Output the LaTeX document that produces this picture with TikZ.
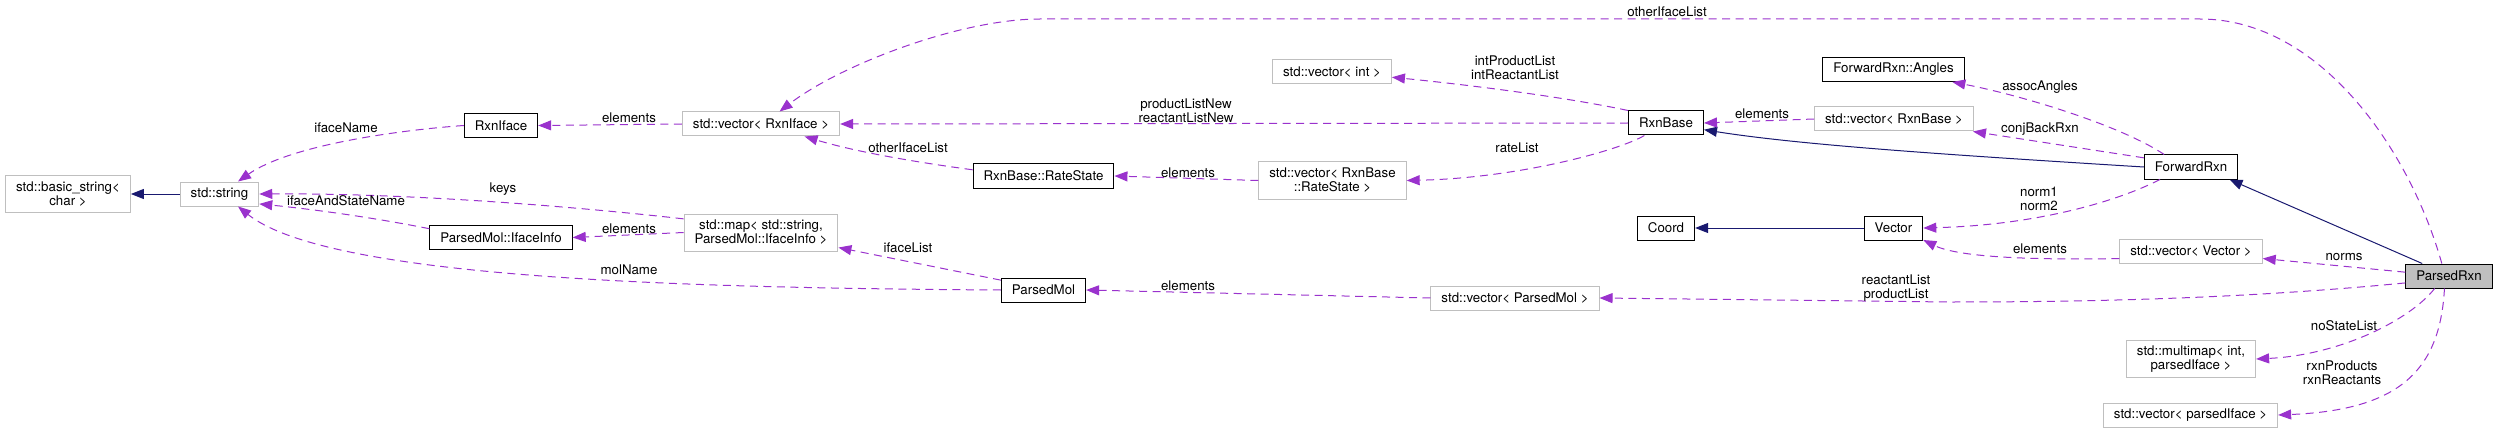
\documentclass[tikz,border=0pt]{standalone}
\usepackage{fontspec}
\setmainfont{TeX Gyre Heros}
\usetikzlibrary{arrows.meta}

\colorlet{class edge}{black}
\definecolor{ext edge}{HTML}{BFBFBF}
\definecolor{member edge}{HTML}{9A32CD}
\definecolor{base edge}{HTML}{191970}
\definecolor{main fill}{HTML}{BFBFBF}
\tikzset{box/.style={draw=class edge, fill=white, line width=1pt, minimum height=24pt,
        inner xsep=10.5pt, inner ysep=4pt},
    extbox/.style={box, draw=ext edge},
    twoline/.style={align=center, minimum height=37pt},
    member/.style={draw=member edge, line width=1pt, dash pattern=on 8pt off 5.5pt,
        -{Triangle[length=13pt, width=10pt, fill=member edge]}},
    inherit/.style={draw=base edge, line width=1pt, -{Triangle[length=13pt, width=10pt]}},
    lab/.style={inner sep=0pt, align=center}}

\begin{document}
\begin{tikzpicture}[x=1pt, y=-1pt, font=\fontsize{13.3}{14}\selectfont]
     \useasboundingbox (0,0) rectangle (2498,433);
     % classes
     \node[extbox, twoline] (strBasic) at (68,194) {std::basic\_string<\\char >};
     \node[extbox] (strStd) at (219.5,194) {std::string};
     \node[box] (rxnIface) at (501,125.5) {RxnIface};
     \node[box] (ifaceInfo) at (501,237.5) {ParsedMol::IfaceInfo};
     \node[extbox] (vecIface) at (761,124) {std::vector< RxnIface >};
     \node[extbox, twoline] (mapIface) at (761,232.5) {std::map< std::string,\\ParsedMol::IfaceInfo >};
     \node[box] (rateState) at (1043.5,176) {RxnBase::RateState};
     \node[box] (parsedMol) at (1043.5,290) {ParsedMol};
     \node[extbox] (vecInt) at (1332,72) {std::vector< int >};
     \node[extbox, twoline] (vecRateState) at (1332.5,180.5) {std::vector< RxnBase\\::RateState >};
     \node[extbox] (vecParsedMol) at (1515,298) {std::vector< ParsedMol >};
     \node[box] (rxnBase) at (1666,123) {RxnBase};
     \node[box] (coord) at (1666,228) {Coord};
     \node[box] (fwdAngles) at (1893.5,69.5) {ForwardRxn::Angles};
     \node[extbox] (vecRxnBase) at (1894,119) {std::vector< RxnBase >};
     \node[box] (vector) at (1893.5,228) {Vector};
     \node[box] (fwdRxn) at (2191,167) {ForwardRxn};
     \node[extbox] (vecVector) at (2191,251) {std::vector< Vector >};
     \node[extbox, twoline] (mmapIface) at (2191,359) {std::multimap< int,\\parsedIface >};
     \node[extbox] (vecParsedIface) at (2190.5,415) {std::vector< parsedIface >};
     \node[box, fill=main fill] (parsedRxn) at (2449,276) {ParsedRxn};

     % base classes
     \draw[inherit] (strStd.west) -- (strBasic.east);
     \draw[inherit] (vector.west) -- (coord.east);
     \draw[inherit] (fwdRxn.west) .. controls (1950,155) and (1800,145) .. (rxnBase.-10);
     \draw[inherit] (parsedRxn.155) -- (fwdRxn.-18);

     % members
     \draw[member] (rxnIface.west) .. controls (400,130) and (290,145) .. (strStd.34);
     \draw[member] (mapIface.170) .. controls (560,205) and (400,193) .. (strStd.east);
     \draw[member] (ifaceInfo.173) .. controls (360,215) and (300,208) .. (strStd.-14);
     \draw[member] (parsedMol.west) .. controls (700,288) and (330,280) .. (strStd.-34);
     \draw[member] (vecIface.west) -- (rxnIface.east);
     \draw[member] (mapIface.west) -- (ifaceInfo.east);
     \draw[member] (parsedMol.167) -- (mapIface.-11);
     \draw[member] (rateState.175) .. controls (900,160) and (850,150) .. (vecIface.-16);
     \draw[member] (rxnBase.west) -- (vecIface.east);
     \draw[member] (parsedRxn.120) .. controls (2410,150) and (2320,19) .. (2200,19) -- (1040,19)
                   .. controls (960,19) and (840,65) .. (vecIface.34);
     \draw[member] (vecRateState.west) -- (rateState.east);
     \draw[member] (rxnBase.north west) .. controls (1560,96) and (1460,84) .. (vecInt.-5);
     \draw[member] (rxnBase.210) .. controls (1620,150) and (1520,178) .. (vecRateState.east);
     \draw[member] (vecParsedMol.west) -- (parsedMol.east);
     \draw[member] (parsedRxn.189) .. controls (2250,298) and (2100,302) .. (1950,302) -- (vecParsedMol.east);
     \draw[member] (vecRxnBase.west) -- (rxnBase.east);
     \draw[member] (fwdRxn.169) -- (vecRxnBase.-9);
     \draw[member] (fwdRxn.155) .. controls (2120,125) and (2020,95) .. (fwdAngles.-12);
     \draw[member] (fwdRxn.202) .. controls (2120,200) and (2040,225) .. (vector.east);
     \draw[member] (vecVector.186) .. controls (2040,260) and (1960,258) .. (vector.-22);
     \draw[member] (parsedRxn.175) -- (vecVector.-6);
     \draw[member] (parsedRxn.221) .. controls (2410,320) and (2340,355) .. (mmapIface.east);
     \draw[member] (parsedRxn.250) .. controls (2440,370) and (2400,410) .. (vecParsedIface.east);

     % edge labels
     \node[lab] (lIfaceName) at (346,128) {ifaceName};
     \node[lab] (lKeys) at (503,189) {keys};
     \node[lab] (lStateName) at (346,201) {ifaceAndStateName};
     \node[lab] (lMolName) at (629,270) {molName};
     \node[lab] (lElemIface) at (629,118) {elements};
     \node[lab] (lElemInfo) at (629,229) {elements};
     \node[lab] (lIfaceList) at (908,248) {ifaceList};
     \node[lab] (lOtherState) at (908,148) {otherIfaceList};
     \node[lab] (lListNew) at (1186,111) {productListNew\\reactantListNew};
     \node[lab] (lOtherRxn) at (1667,12) {otherIfaceList};
     \node[lab] (lElemState) at (1188,173) {elements};
     \node[lab] (lIntList) at (1515,68) {intProductList\\intReactantList};
     \node[lab] (lRateList) at (1517,148) {rateList};
     \node[lab] (lElemMol) at (1188,286) {elements};
     \node[lab] (lMolList) at (1896,288) {reactantList\\productList};
     \node[lab] (lElemBase) at (1762,114) {elements};
     \node[lab] (lConj) at (2040,129) {conjBackRxn};
     \node[lab] (lAngles) at (2040,87) {assocAngles};
     \node[lab] (lNorm) at (2039,199) {norm1\\norm2};
     \node[lab] (lElemVec) at (2040,249) {elements};
     \node[lab] (lNorms) at (2344,257) {norms};
     \node[lab] (lNoState) at (2344,326) {noStateList};
     \node[lab] (lRxnIface) at (2342,373) {rxnProducts\\rxnReactants};
%     \node[lab] at (current bounding box.south) {ParsedRxn};
\end{tikzpicture}
\end{document}
